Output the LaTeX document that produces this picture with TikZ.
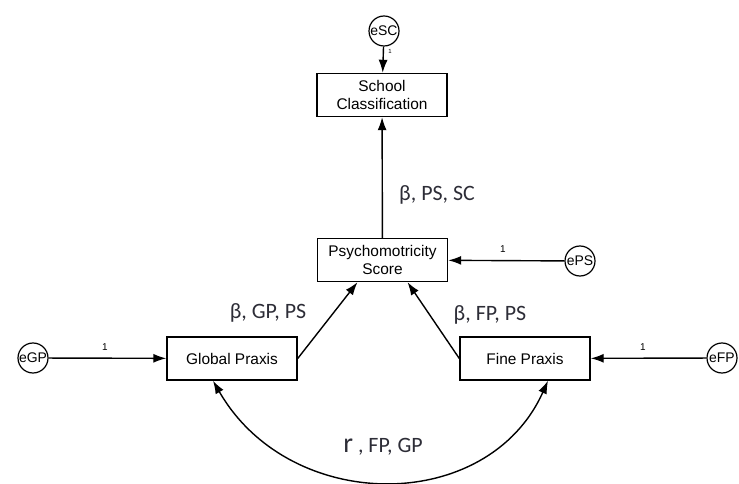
\documentclass[tikz,border=0pt]{standalone}
\usepackage{fontspec}
\setmainfont{Liberation Sans}
\newfontfamily\coeffont{Carlito}
\usetikzlibrary{arrows.meta}
\definecolor{coefgray}{RGB}{45,45,55}
\tikzset{
  var/.style={draw, line width=1.4bp, minimum width=130bp, minimum height=43bp,
    align=center, inner sep=2bp, font=\fontsize{15.5}{18}\selectfont},
  err/.style={draw, circle, line width=1.2bp, minimum size=30bp, inner sep=0pt,
    font=\fontsize{14}{14}\selectfont},
  effect/.style={line width=1.4bp, -{Latex[length=13bp,width=9bp]}},
  coef/.style={font=\coeffont\fontsize{22}{24}\selectfont, text=coefgray},
  one/.style={font=\fontsize{10}{10}\selectfont, inner sep=0pt}
}
\begin{document}
\begin{tikzpicture}[x=1bp,y=-1bp]
    \useasboundingbox (0,0) rectangle (739,484);
    % Draw observed variables
    \node[var] (sc) at (382,95)    {School\\Classification};
    \node[var] (ps) at (382.5,260) {Psychomotricity\\Score};
    \node[var] (gp) at (232,358.5) {Global Praxis};
    \node[var] (fp) at (525,358.5) {Fine Praxis};
    % Draw error terms
    \node[err] (esc) at (384,31)  {eSC};
    \node[err] (eps) at (580,261) {ePS};
    \node[err] (egp) at (33,358)  {eGP};
    \node[err] (efp) at (722,358) {eFP};
    % Draw error paths
    \draw[effect] (esc) -- (sc);
    \draw[effect] (eps) -- (ps);
    \draw[effect] (egp) -- (gp);
    \draw[effect] (efp) -- (fp);
    \node[one, font=\fontsize{6}{6}\selectfont] (one1) at (390,51) {1};
    \node[one] (one2) at (503,249) {1};
    \node[one] (one3) at (105,347) {1};
    \node[one] (one4) at (643,347) {1};
    % Draw structural paths
    \draw[effect] (ps) -- (sc);
    \draw[effect] (gp.east) -- ([xshift=-25bp]ps.south);
    \draw[effect] (fp.west) -- ([xshift=25bp]ps.south);
    \draw[line width=1.4bp, {Latex[length=13bp,width=9bp]}-{Latex[length=13bp,width=9bp]}]
          ([xshift=-19bp]gp.south) .. controls +(77,134) and +(-60,134) .. ([xshift=23bp]fp.south);
    % Draw coefficients
    \node[coef] (bpssc) at (437,195) {β, PS, SC};
    \node[coef] (bgpps) at (268,313) {β, GP, PS};
    \node[coef] (bfpps) at (490,315) {β, FP, PS};
    \node[coef] (rfpgp) at (383,447) {{\fontsize{28}{28}\selectfont r} , FP, GP};
\end{tikzpicture}
\end{document}
